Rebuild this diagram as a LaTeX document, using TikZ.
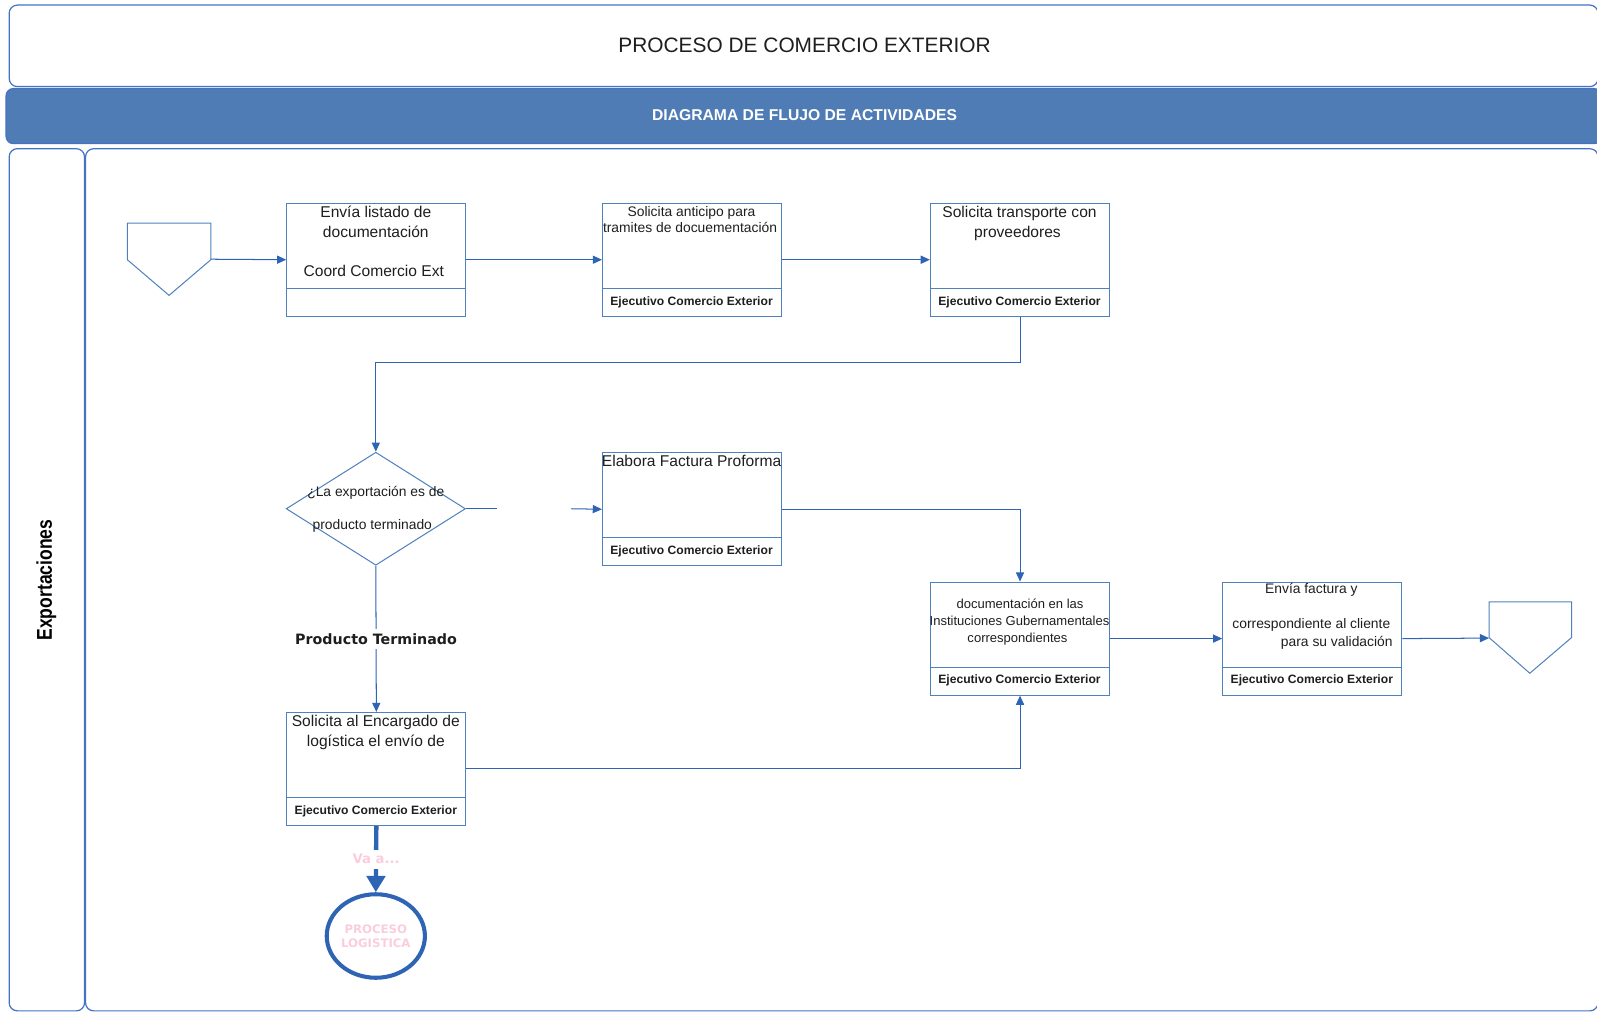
\documentclass[tikz,border=0pt]{standalone}
\usepackage{fontspec}
\setmainfont{Liberation Sans}
\newfontfamily\narrowbold[FakeStretch=0.82]{Liberation Sans Bold}
\newfontfamily\widebold{DejaVu Sans Bold}
\usetikzlibrary{arrows.meta,shapes.geometric}

\definecolor{frameblue}{RGB}{68,114,196}
\definecolor{bandblue}{RGB}{79,124,180}
\definecolor{flowblue}{RGB}{46,100,180}
\definecolor{boxblue}{RGB}{79,129,189}
\definecolor{softpink}{RGB}{250,205,222}
\definecolor{inkgray}{RGB}{30,30,30}

\tikzset{
  frame/.style={draw=frameblue, line width=1.2pt, rounded corners=8pt},
  procbox/.style={draw=boxblue, line width=1pt, minimum width=176pt,
    minimum height=111pt, inner sep=0pt, anchor=north west},
  divider/.style={draw=boxblue, line width=1pt},
  decision/.style={diamond, draw=boxblue, line width=1pt, minimum width=176pt,
    minimum height=111pt, inner sep=0pt},
  connector/.style={draw=boxblue, line width=1pt},
  flow/.style={draw=flowblue, line width=1pt, -{Triangle[length=9pt,width=8pt]}},
  plainflow/.style={draw=flowblue, line width=1pt},
  bigflow/.style={draw=flowblue, line width=4.3pt, -{Triangle[length=16pt,width=18pt]}},
  bigtxt/.style={inner sep=0pt, anchor=base, text=inkgray, font=\fontsize{15.3}{18}\selectfont},
  midtxt/.style={inner sep=0pt, anchor=base, text=inkgray, font=\fontsize{13.6}{16}\selectfont},
  smalltxt/.style={inner sep=0pt, anchor=base, text=inkgray, font=\fontsize{12.8}{15}\selectfont},
  roletxt/.style={inner sep=0pt, anchor=base, text=inkgray, font=\bfseries\fontsize{11.9}{14}\selectfont},
  logistic/.style={ellipse, draw=flowblue, line width=4pt, minimum width=96pt,
    minimum height=82pt, inner sep=0pt, align=center, text=softpink,
    font=\widebold\fontsize{11.5}{13.5}\selectfont},
}

\begin{document}
\begin{tikzpicture}[x=1pt,y=-1pt]
\useasboundingbox (0,0) rectangle (1568,993);
\clip (0,0) rectangle (1568,993);

% header and lanes
\draw[frame] (9,5) rectangle (1569,85);
\node[text=inkgray, font=\fontsize{20.5}{24}\selectfont] (title) at (790,44) {PROCESO DE COMERCIO EXTERIOR};
\filldraw[fill=bandblue, draw=frameblue, line width=1.2pt, rounded corners=7pt] (6,87) rectangle (1572,141);
\node[text=white, font=\bfseries\fontsize{15.4}{18}\selectfont] (band) at (790,113) {DIAGRAMA DE FLUJO DE ACTIVIDADES};
\draw[frame] (9,146) rectangle (83,992.5);
\draw[frame] (84,146) rectangle (1569,992.5);
\node[rotate=90, text=black, font=\narrowbold\fontsize{21}{24}\selectfont] (lane) at (45.5,569.5) {Exportaciones};

% start and end off-page connectors
\draw[connector] (125,219) -- (207,219) -- (207,255) -- (166,290) -- (125,255) -- cycle;
\coordinate (s1) at (207,254.5);
\draw[connector] (1462,591) -- (1543,591) -- (1543,626) -- (1502,661) -- (1462,626) -- cycle;
\coordinate (e1) at (1462,626.5);

% activity boxes
\node[procbox] (b1) at (281,199) {};
\node[procbox] (b2) at (591,199) {};
\node[procbox] (b3) at (913,199) {};
\node[procbox] (b4) at (591,444) {};
\node[procbox] (b5) at (913,571) {};
\node[procbox] (b6) at (1200,571) {};
\node[procbox] (b7) at (281,699) {};
\foreach \b in {b1,b2,b3,b4,b5,b6,b7}
  \draw[divider] ([yshift=28pt]\b.south west) -- ([yshift=28pt]\b.south east);

\node[decision] (dia) at (369,499.5) {};

% box texts
\node[bigtxt] (t1a) at (369,214) {Envía listado de};
\node[bigtxt] (t1b) at (369,233.5) {documentación};
\node[bigtxt] (t1c) at (367,271) {Coord Comercio Ext};

\node[midtxt] (t2a) at (679,212.5) {Solicita anticipo para};
\node[midtxt] (t2b) at (677.5,228.5) {tramites de docuementación};
\node[roletxt] (r2) at (679,299.5) {Ejecutivo Comercio Exterior};

\node[bigtxt] (t3a) at (1001,213.5) {Solicita transporte con};
\node[bigtxt] (t3b) at (999,233) {proveedores};
\node[roletxt] (r3) at (1001,299.5) {Ejecutivo Comercio Exterior};

\node[midtxt] (tda) at (369,487) {¿La exportación es de};
\node[midtxt] (tdb) at (365.5,519.5) {producto terminado};

\node[bigtxt] (t4a) at (679,458) {Elabora Factura Proforma};
\node[roletxt] (r4) at (679,544.5) {Ejecutivo Comercio Exterior};

\node[smalltxt] (t5a) at (1001.5,597.5) {documentación en las};
\node[smalltxt] (t5b) at (1001,614) {Instituciones Gubernamentales};
\node[smalltxt] (t5c) at (999,630.5) {correspondientes};
\node[roletxt] (r5) at (1001,671.5) {Ejecutivo Comercio Exterior};

\node[midtxt] (t6a) at (1287.5,583) {Envía factura y};
\node[midtxt] (t6b) at (1287.5,617) {correspondiente al cliente};
\node[midtxt] (t6c) at (1312.5,635) {para su validación};
\node[roletxt] (r6) at (1288,671.5) {Ejecutivo Comercio Exterior};

\node[bigtxt] (t7a) at (369,713) {Solicita al Encargado de};
\node[bigtxt] (t7b) at (369,732.5) {logística el envío de};
\node[roletxt] (r7) at (369,799.5) {Ejecutivo Comercio Exterior};

% flow
\draw[flow] (s1) -- (b1.west);
\draw[flow] (b1) -- (b2);
\draw[flow] (b2) -- (b3);
\draw[flow] (b3.south) -- ++(0,45) -| (dia.north);
\coordinate (g1) at (488,499.5);
\coordinate (g2) at (561,499.5);
\draw[plainflow] (dia.east) -- (g1);
\draw[flow] (g2) -- (b4.west);
\draw[flow] (b4.east) -| (b5.north);
\draw[flow] (b5) -- (b6);
\draw[flow] (b6.east) -- (e1);
\draw[flow] (dia.south) -- node[fill=white, inner xsep=2pt, inner ysep=4.1pt, text=inkgray,
  font=\widebold\fontsize{14}{16}\selectfont] (pt) {Producto Terminado} (b7.north);
\draw[flow] (b7.east) -| (b5.south);

% hand-off to the logistics process
\node[logistic] (logi) at (369,919) {PROCESO\\LOGISTICA};
\draw[bigflow] (b7.south) -- node[fill=white, inner xsep=2pt, inner ysep=4.5pt, text=softpink,
  font=\widebold\fontsize{13}{15}\selectfont] (vaa) {Va a...} (logi.north);
\end{tikzpicture}
\end{document}
